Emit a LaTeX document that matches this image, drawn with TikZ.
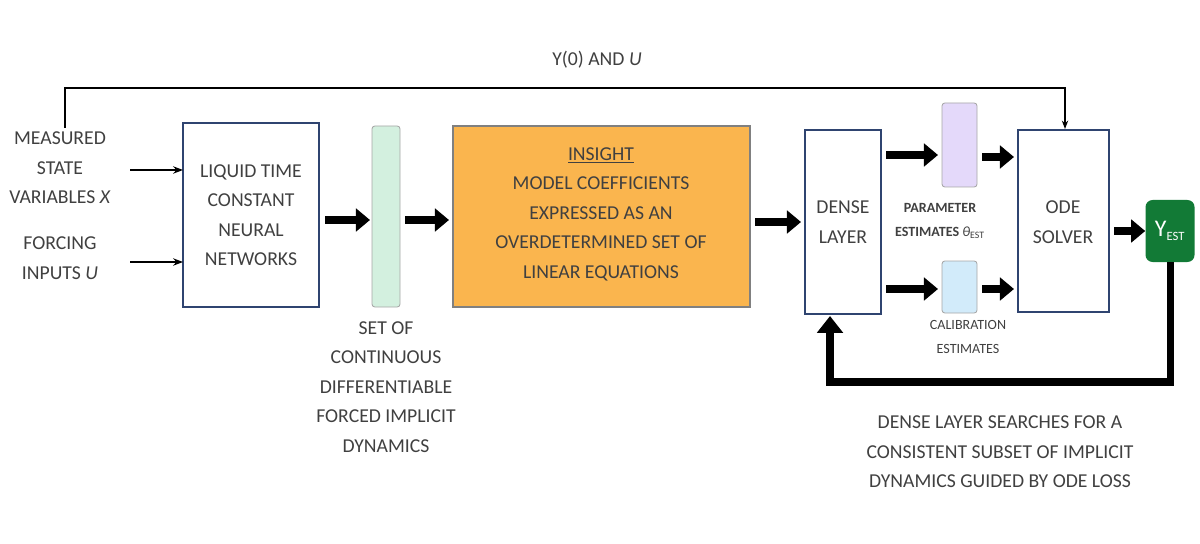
\documentclass[tikz,border=0pt]{standalone}
\usepackage{fontspec}
\setmainfont{Carlito}
\usetikzlibrary{arrows.meta}
\definecolor{boxblue}{HTML}{2F4470}
\definecolor{orangef}{HTML}{FAB54E}
\definecolor{greenbar}{HTML}{D3F0DF}
\definecolor{purplebar}{HTML}{E4D9FA}
\definecolor{bluebar}{HTML}{D2EBFA}
\definecolor{darkgreen}{HTML}{127A36}
\begin{document}
\begin{tikzpicture}[x=0.025cm,y=-0.025cm,
  every node/.style={font=\fontsize{14}{21}\selectfont, text=black!75, align=center},
  bar/.style={draw=gray!70, rounded corners=2pt, line width=0.6pt},
  fat/.style={line width=5pt, -{Triangle[length=10pt,width=16pt]}},
  thin/.style={line width=1.4pt, -{Stealth[length=7pt]}}]
\useasboundingbox (0,0) rectangle (1200,544);
% boxes
\draw[draw=boxblue,line width=1.3pt] (183,123) rectangle (319,307);
\node (ltc) at (251,215) {LIQUID TIME\\CONSTANT\\NEURAL\\NETWORKS};
\coordinate (ltcW1) at (183,170); \coordinate (ltcW2) at (183,262);
\draw[bar, fill=greenbar] (372,126) rectangle (400,307);
\draw[draw=gray, fill=orangef, line width=0.8pt] (453,126) rectangle (750,307);
\node (ins) at (601,214) {\underline{INSIGHT}\\MODEL COEFFICIENTS\\EXPRESSED AS AN\\OVERDETERMINED SET OF\\LINEAR EQUATIONS};
\draw[draw=boxblue,line width=1.3pt] (805,130) rectangle (881,314);
\node (dense) at (843,222) {DENSE\\LAYER};
\draw[bar, fill=purplebar] (942,103) rectangle (977,187);
\draw[bar, fill=bluebar] (942,261) rectangle (977,313);
\draw[draw=boxblue,line width=1.3pt] (1018,130) rectangle (1109,312);
\node (ode) at (1063,222) {ODE\\SOLVER};
\node[fill=darkgreen, rounded corners=5pt, text=white, minimum width=49*0.025cm, minimum height=62*0.025cm, inner sep=0pt] (y) at (1170,231) {\fontsize{17}{17}\selectfont Y\textsubscript{\fontsize{9}{9}\selectfont EST}};
% texts
\node (meas) at (60,168) {MEASURED\\STATE\\VARIABLES \textit{X}};
\node (forc) at (60,258) {FORCING\\INPUTS \textit{U}};
\node (top) at (597,60) {Y(0) AND \textit{U}};
\node (set) at (386,387) {SET OF\\CONTINUOUS\\DIFFERENTIABLE\\FORCED IMPLICIT\\DYNAMICS};
\node[font=\bfseries\fontsize{10}{17}\selectfont] (par) at (940,221) {PARAMETER\\ESTIMATES \textmd{\textit{θ}\textsubscript{EST}}};
\node[font=\fontsize{10}{17}\selectfont] (cal) at (968,337) {CALIBRATION\\ESTIMATES};
\node (bot) at (1000,452) {DENSE LAYER SEARCHES FOR A\\CONSISTENT SUBSET OF IMPLICIT\\DYNAMICS GUIDED BY ODE LOSS};
% arrows
\draw[thin] (130,170) -- (ltcW1);
\draw[thin] (130,262) -- (ltcW2);
\draw[fat] (325,220) -- (370,220);
\draw[fat] (405,220) -- (449,220);
\draw[fat] (755,222) -- (801,222);
\draw[fat] (886,155) -- (938,155);
\draw[fat] (982,157) -- (1014,157);
\draw[fat] (886,289) -- (938,289);
\draw[fat] (982,289) -- (1014,289);
\draw[fat] (1114,231) -- (y.west);
\draw[line width=1pt, -{Stealth[length=6pt]}] (65,128) -- (65,88) -- (1065,88) -- (1065,129);
\draw[line width=5pt, -{Triangle[length=12pt,width=18pt]}] (y.south) -- (1170,382) -- (830,382) -- (830,316);
\end{tikzpicture}
\end{document}
